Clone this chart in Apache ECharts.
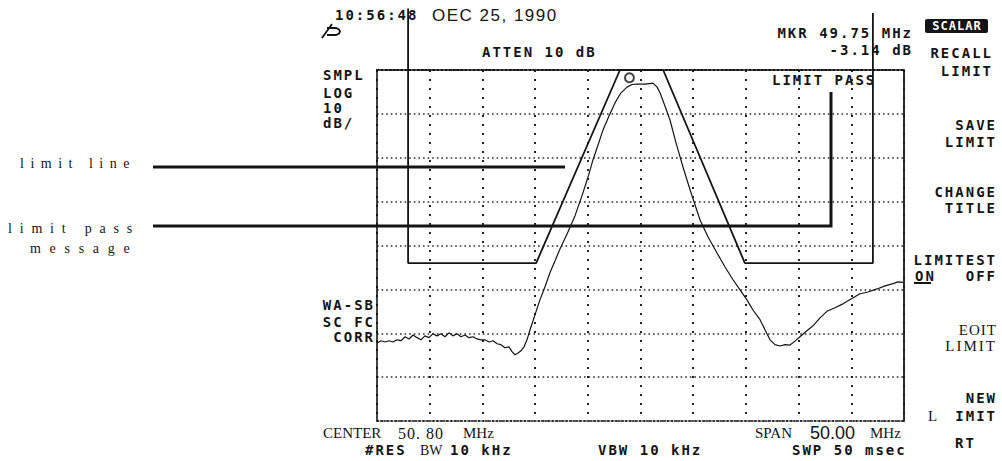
<!DOCTYPE html>
<html>
<head>
<meta charset="utf-8">
<script src="https://cdn.jsdelivr.net/npm/echarts@6/dist/echarts.min.js"></script>
<style>
  html, body { margin: 0; padding: 0; background: #fff; }
  #chart { width: 1002px; height: 461px; }
</style>
</head>
<body>
<div id="chart"></div>
<script>
// Sweep settings: centre 50.80 MHz, span 50 MHz, 10 dB per division, 8 divisions
const centerMHz = 50.80;
const spanMHz = 50.00;
const refLevel = 0;
const dbPerDiv = 10;
const vDivs = 8;
const hDivs = 10;

// Measured response trace (frequency in MHz, level in dB)
const traceFreq = [25.80, 26.18, 26.56, 26.94, 27.32, 27.70, 28.08, 28.46, 28.84, 29.22,
  29.60, 29.97, 30.35, 30.73, 31.11, 31.49, 31.87, 32.25, 32.63, 33.01,
  33.39, 33.77, 34.15, 34.53, 34.91, 35.29, 35.67, 36.05, 36.43, 36.81,
  37.19, 37.56, 37.94, 38.32, 38.61, 38.89, 39.18, 39.46, 39.75, 40.03,
  40.32, 40.60, 40.98, 41.26, 41.74, 42.21, 42.69, 43.16, 43.83, 44.59,
  45.34, 45.82, 46.29, 46.77, 47.24, 47.81, 48.38, 48.95, 49.52, 49.99,
  50.47, 51.23, 51.99, 52.37, 52.65, 53.12, 53.60, 54.17, 54.83, 55.50,
  56.45, 57.20, 58.06, 58.82, 59.58, 60.24, 60.90, 61.47, 62.14, 62.61,
  63.09, 63.56, 64.04, 64.51, 64.98, 65.46, 65.93, 66.50, 67.17, 67.83,
  68.49, 69.25, 70.01, 70.77, 71.63, 72.38, 73.24, 74.00, 74.76, 75.23, 75.71];
const traceLevel = [-62.2, -61.7, -62.0, -61.7, -62.0, -61.5, -61.7, -60.8, -61.3, -60.4,
  -61.0, -61.5, -60.6, -61.0, -60.1, -60.6, -60.1, -60.8, -59.9, -60.6,
  -60.1, -60.8, -60.4, -61.0, -60.8, -61.3, -61.5, -61.5, -62.0, -61.7,
  -62.4, -62.6, -63.3, -63.1, -64.2, -64.9, -64.5, -64.0, -63.1, -61.5,
  -59.2, -57.2, -54.4, -52.4, -49.4, -46.2, -43.5, -40.8, -37.4, -33.2,
  -28.0, -24.4, -20.5, -17.1, -13.7, -10.5, -7.5, -5.2, -3.9, -3.3,
  -3.2, -3.2, -3.0, -3.9, -5.2, -8.2, -11.4, -16.6, -22.1, -27.3,
  -34.2, -38.0, -41.7, -44.9, -47.8, -50.1, -52.4, -54.7, -56.9, -59.2,
  -61.5, -62.6, -62.9, -62.6, -62.7, -61.8, -60.8, -59.6, -58.3, -56.5,
  -55.0, -54.2, -53.3, -52.2, -51.0, -50.6, -49.9, -49.2, -48.7, -48.3, -48.4];

// Limit line vertices (MHz, dB)
const limitFreq = [28.75, 28.75, 40.90, 48.85, 52.95, 60.70, 72.85, 72.85];
const limitLevel = [14, -44, -44, 0, 0, -44, -44, 13];

// Marker readout
const markerFreq = 49.75;
const markerLevel = -3.14;

const startMHz = centerMHz - spanMHz / 2;
const stopMHz = centerMHz + spanMHz / 2;
const bottomLevel = refLevel - dbPerDiv * vDivs;

const traceData = traceFreq.map((f, i) => [f, traceLevel[i]]);
const limitData = limitFreq.map((f, i) => [f, limitLevel[i]]);

const INK = '#141414';
const MONO = 'bold 14px "DejaVu Sans Mono"';
const SERIF = '15px "Liberation Serif"';
const spacingByText = {};

function txt(text, x, y, font, align, spacing, fill) {
  if (spacing) spacingByText[text] = spacing;
  return {
    type: 'text', x: x, y: y, silent: true,
    style: {
      text: text, font: font, fill: fill || INK,
      textAlign: align || 'left', align: align || 'left',
      textVerticalAlign: 'middle', verticalAlign: 'middle'
    }
  };
}
function mono(text, x, y, align) { return txt(text, x, y, MONO, align, 2); }
function line(points, width) {
  return { type: 'polyline', silent: true, shape: { points: points },
    style: { stroke: INK, lineWidth: width, fill: null } };
}

const graphics = [
  // header
  mono('10:56:48', 335, 15),
  txt('OEC 25, 1990', 432, 15, '17px "Liberation Sans"', 'left', 1.5),
  line([[322, 38], [332, 24]], 1.8),
  line([[327, 28], [336, 28], [339, 29.5], [340, 31.5], [339, 33.5], [336, 35], [327, 35]], 1.8),
  mono('ATTEN 10 dB', 482, 52),
  mono('MKR 49.75 MHz', 913, 33, 'right'),
  mono('-3.14 dB', 913, 50, 'right'),
  // left annunciators
  mono('SMPL', 323, 75), mono('LOG', 323, 93), mono('10', 323, 108), mono('dB/', 323, 123),
  mono('WA-SB', 375, 305, 'right'), mono('SC FC', 375, 322, 'right'), mono('CORR', 375, 337, 'right'),
  mono('LIMIT PASS', 772, 80),
  // softkeys
  { type: 'rect', silent: true, shape: { x: 925, y: 19, width: 63, height: 14, r: 2 }, style: { fill: INK } },
  txt('SCALAR', 957, 26, 'bold 12px "DejaVu Sans Mono"', 'center', 1, '#fff'),
  mono('RECALL', 993, 53, 'right'), mono('LIMIT', 993, 71, 'right'),
  mono('SAVE', 997, 125, 'right'), mono('LIMIT', 997, 142, 'right'),
  mono('CHANGE', 997, 192, 'right'), mono('TITLE', 997, 208, 'right'),
  mono('LIMITEST', 997, 260, 'right'), mono('ON', 915, 276), mono('OFF', 997, 276, 'right'),
  line([[914, 283], [931, 283]], 2),
  txt('EOIT', 997, 330, SERIF, 'right', 1),
  txt('LIMIT', 997, 346, SERIF, 'right', 2),
  mono('NEW', 997, 398, 'right'),
  txt('L', 928, 416, SERIF, 'left'),
  mono('IMIT', 997, 416, 'right'),
  mono('RT', 955, 443),
  // footer
  txt('CENTER', 323, 433, SERIF, 'left'),
  txt('50. 80', 398, 433, '16px "Liberation Serif"', 'left', 1),
  txt('MHz', 463, 433, SERIF, 'left'),
  mono('#RES', 365, 450),
  txt('BW', 420, 450, '14px "Liberation Serif"', 'left'),
  mono('10 kHz', 450, 450),
  mono('VBW 10 kHz', 598, 450),
  txt('SPAN', 755, 433, SERIF, 'left'),
  txt('50.00', 810, 433, '18px "Liberation Sans"', 'left'),
  txt('MHz', 870, 433, SERIF, 'left'),
  mono('SWP 50 msec', 792, 450),
  // callouts
  txt('limit line', 20, 163, '14px "Liberation Serif"', 'left', 6.5),
  txt('limit pass', 8, 228, '14px "Liberation Serif"', 'left', 7.8),
  txt('message', 30, 248, '14px "Liberation Serif"', 'left', 8.7),
  line([[153, 167], [565, 167]], 3),
  line([[153, 226], [831, 226], [831, 92]], 3)
];

const chart = echarts.init(document.getElementById('chart'), null, { renderer: 'svg' });

const hidden = { show: false };
chart.setOption({
  animation: false,
  backgroundColor: '#fff',
  grid: { left: 377, top: 70, width: 527, height: 351 },
  xAxis: [
    {
      type: 'value', min: startMHz, max: stopMHz, position: 'bottom',
      axisLine: { show: true, onZero: false, lineStyle: { color: INK, width: 1.6, type: [1.5, 2] } },
      axisTick: hidden, axisLabel: hidden, splitLine: hidden
    },
    {
      type: 'value', min: 0, max: hDivs, interval: 1, position: 'top',
      axisLine: { show: true, onZero: false, lineStyle: { color: INK, width: 2, type: [2, 2] } },
      axisTick: hidden, axisLabel: hidden,
      splitLine: { show: true, lineStyle: { color: '#222', width: 2, type: [2, 7] } }
    }
  ],
  yAxis: [
    {
      type: 'value', min: bottomLevel, max: refLevel, interval: dbPerDiv, position: 'left',
      axisLine: { show: true, onZero: false, lineStyle: { color: INK, width: 1.6 } },
      axisTick: hidden, axisLabel: hidden,
      splitLine: { show: true, lineStyle: { color: '#2a2a2a', width: 1.6, type: [1.6, 3] } }
    },
    {
      type: 'value', min: bottomLevel, max: refLevel, position: 'right',
      axisLine: { show: true, onZero: false, lineStyle: { color: INK, width: 1.8 } },
      axisTick: hidden, axisLabel: hidden, splitLine: hidden
    }
  ],
  series: [
    {
      name: 'trace', type: 'line', xAxisIndex: 0, yAxisIndex: 0,
      data: traceData, showSymbol: false, symbol: 'none',
      lineStyle: { color: INK, width: 1.2 }, silent: true
    },
    {
      name: 'limit', type: 'line', xAxisIndex: 0, yAxisIndex: 0, clip: false,
      data: limitData, showSymbol: false, symbol: 'none',
      lineStyle: { color: INK, width: 1.8 }, silent: true
    },
    {
      name: 'marker', type: 'scatter', xAxisIndex: 0, yAxisIndex: 0,
      data: [[markerFreq, markerLevel]], symbol: 'circle', symbolSize: 9,
      symbolOffset: [0, -6], silent: true,
      itemStyle: { color: '#fff', borderColor: INK, borderWidth: 2 }
    }
  ],
  graphic: { elements: graphics }
});

// widen the tracking of the screen lettering
function applySpacing() {
  document.querySelectorAll('#chart svg text').forEach(function (t) {
    const s = spacingByText[t.textContent];
    if (s) t.style.letterSpacing = s + 'px';
  });
}
applySpacing();
chart.on('finished', applySpacing);
requestAnimationFrame(applySpacing);
setTimeout(applySpacing, 30);
</script>
</body>
</html>
